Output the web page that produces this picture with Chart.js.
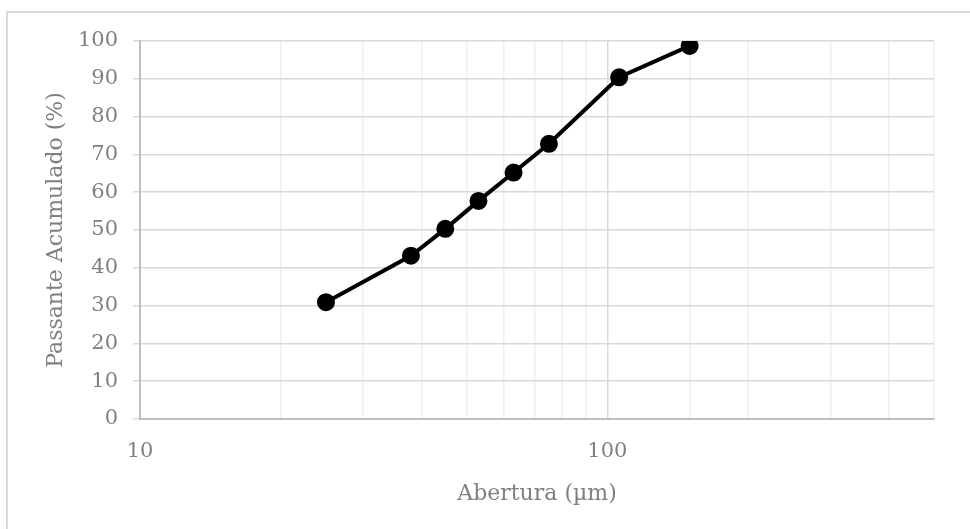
<!DOCTYPE html>
<html>
<head>
<meta charset="utf-8">
<script src="https://cdn.jsdelivr.net/npm/chart.js@4/dist/chart.umd.min.js"></script>
<style>
	body { margin: 0; background: #fff; }
	#wrap { position: relative; width: 970px; height: 529px; }
	#frame { position: absolute; left: 6px; top: 11px; right: -4px; bottom: -4px; border-left: 2px solid #d9d9d9; border-top: 2px solid #d9d9d9; pointer-events: none; }
</style>
</head>
<body>
<div id="wrap">
	<canvas id="myChartPeneira" width="970" height="529"></canvas>
	<div id="frame"></div>
</div>
<script>
// abertura das peneiras (µm) e passante acumulado (%)
var abertura = [25, 38, 45, 53, 63, 75, 106, 150];
var passante = [30.9, 43.2, 50.3, 57.7, 65.2, 72.8, 90.4, 98.7];
var xLabels = [10, 100];

var pontos = [];
abertura.forEach((a, i) => {
	pontos.push({ x: a, y: passante[i] });
});

function isDecade(v) {
	return xLabels.indexOf(v) !== -1;
}

var ctx = document.getElementById('myChartPeneira');
var myChart = new Chart(ctx, {
	type: 'scatter',
	data: {
		datasets: [
			{
				label: 'Passante',
				data: pontos,
				showLine: true,
				borderColor: '#000000',
				backgroundColor: '#000000',
				borderWidth: 4,
				pointRadius: 7,
				pointHoverRadius: 7,
			},
		],
	},
	options: {
		responsive: false,
		animation: false,
		layout: { padding: { top: 41, right: 36, left: 0, bottom: 0 } },
		plugins: {
			legend: { display: false },
			tooltip: { enabled: false },
		},
		scales: {
			x: {
				type: 'logarithmic',
				min: 10,
				max: 500,
				afterFit: function (scale) {
					scale.height = 110;
				},
				border: { color: '#bfbfbf', width: 2 },
				grid: {
					drawTicks: false,
					color: function (c) {
						return isDecade(c.tick && c.tick.value) ? '#d9d9d9' : '#efefef';
					},
					lineWidth: 1.5,
				},
				ticks: {
					autoSkip: false,
					maxRotation: 0,
					padding: 20,
					color: '#808080',
					font: { family: 'DejaVu Serif', size: 21 },
					callback: function (v) {
						return isDecade(v) ? String(v) : '';
					},
				},
				title: {
					display: true,
					text: 'Abertura (µm)',
					color: '#808080',
					font: { family: 'DejaVu Serif', size: 22 },
					padding: { top: 0, bottom: 22 },
				},
			},
			y: {
				min: 0,
				max: 100,
				afterFit: function (scale) {
					scale.width = 140;
				},
				border: { color: '#bfbfbf', width: 2 },
				grid: {
					color: '#d9d9d9',
					lineWidth: 1.5,
					tickLength: 7,
				},
				ticks: {
					stepSize: 10,
					padding: 15,
					color: '#808080',
					font: { family: 'DejaVu Serif', size: 21 },
				},
				title: {
					display: true,
					text: 'Passante Acumulado (%)',
					color: '#808080',
					font: { family: 'DejaVu Serif', size: 22 },
					padding: { top: 43, bottom: 0 },
				},
			},
		},
	},
});
</script>
</body>
</html>
